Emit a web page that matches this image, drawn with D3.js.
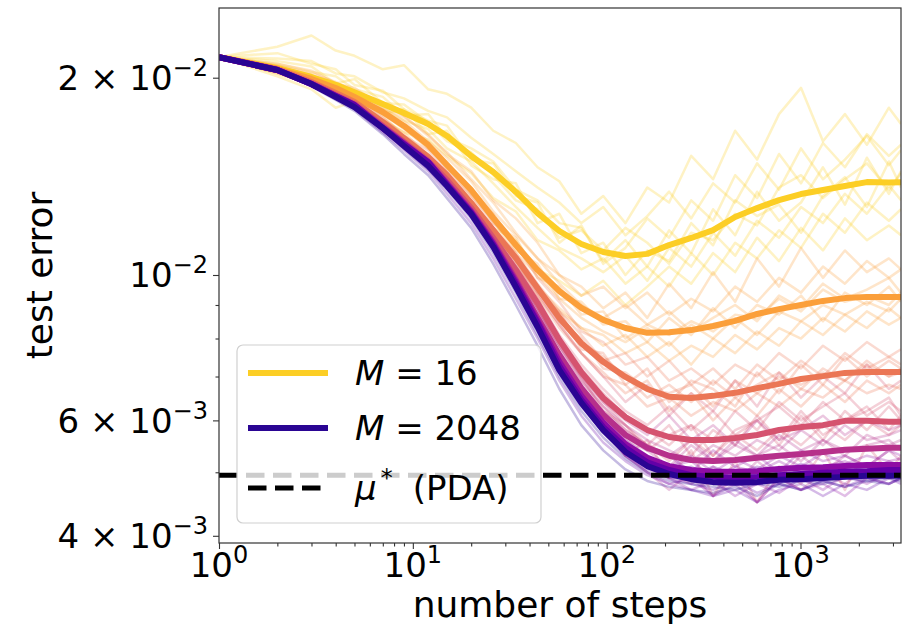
<!DOCTYPE html>
<html>
<head>
<meta charset="utf-8">
<script src="https://cdn.jsdelivr.net/npm/d3@7"></script>
<style>
  html, body { margin: 0; padding: 0; background: #ffffff; }
  svg { display: block; font-family: "DejaVu Sans", sans-serif; }
</style>
</head>
<body>
<script>
// Steps at which the test error was recorded
const steps = [1, 2, 3, 4, 5, 7, 9, 12, 15, 20, 26, 34, 44, 57, 74, 96, 125, 162, 210, 273, 354, 460, 597, 775, 1006, 1306, 1695, 2200, 2857, 3300];

// Number of particles for each averaged curve
const mValues = [16, 32, 64, 128, 256, 512, 1024, 2048];

// Averaged test error per M (units of 1e-3)
const meanM16   = [21.5, 20.7, 20.05, 19.5, 19.0, 18.24, 17.67, 17.0, 16.3, 15.19, 14.36, 13.39, 12.43, 11.67, 11.15, 10.84, 10.69, 10.77, 11.11, 11.39, 11.71, 12.26, 12.65, 13.01, 13.29, 13.48, 13.67, 13.86, 13.84, 13.85];
const meanM32   = [21.5, 20.62, 19.91, 19.29, 18.69, 17.73, 16.88, 15.79, 14.72, 13.48, 12.22, 11.11, 10.18, 9.45, 8.91, 8.54, 8.30, 8.16, 8.18, 8.24, 8.36, 8.51, 8.72, 8.87, 9.00, 9.13, 9.22, 9.26, 9.26, 9.26];
const meanM64   = [21.5, 20.62, 19.70, 18.95, 18.36, 17.12, 16.18, 15.14, 14.21, 12.88, 11.71, 10.62, 9.55, 8.60, 7.87, 7.37, 6.99, 6.70, 6.52, 6.49, 6.54, 6.61, 6.72, 6.82, 6.94, 7.01, 7.09, 7.11, 7.11, 7.11];
const meanM128  = [21.5, 20.55, 19.63, 18.82, 18.24, 16.88, 15.96, 14.93, 13.96, 12.65, 11.39, 10.18, 9.06, 7.96, 7.11, 6.49, 6.07, 5.80, 5.66, 5.60, 5.60, 5.64, 5.70, 5.80, 5.86, 5.90, 5.99, 5.99, 5.97, 5.97];
const meanM256  = [21.5, 20.55, 19.56, 18.76, 18.17, 16.82, 15.90, 14.87, 13.82, 12.52, 11.23, 9.83, 8.60, 7.55, 6.72, 6.12, 5.70, 5.45, 5.30, 5.22, 5.20, 5.22, 5.26, 5.30, 5.33, 5.37, 5.41, 5.43, 5.45, 5.45];
const meanM512  = [21.5, 20.55, 19.56, 18.76, 18.17, 16.76, 15.84, 14.87, 13.77, 12.48, 11.15, 9.76, 8.51, 7.37, 6.54, 5.95, 5.52, 5.26, 5.11, 5.04, 5.01, 5.01, 5.02, 5.06, 5.08, 5.09, 5.11, 5.13, 5.13, 5.13];
const meanM1024 = [21.5, 20.55, 19.56, 18.76, 18.17, 16.76, 15.84, 14.87, 13.72, 12.43, 11.11, 9.69, 8.45, 7.26, 6.45, 5.86, 5.45, 5.18, 5.04, 4.95, 4.92, 4.90, 4.92, 4.95, 4.97, 4.99, 5.01, 5.02, 5.04, 5.04];
const meanM2048 = [21.5, 20.55, 19.56, 18.69, 18.04, 16.76, 15.73, 14.67, 13.67, 12.39, 11.04, 9.59, 8.33, 7.16, 6.38, 5.80, 5.37, 5.11, 4.97, 4.88, 4.83, 4.82, 4.83, 4.87, 4.88, 4.90, 4.92, 4.94, 4.94, 4.94];

// Individual runs per M (units of 1e-3)
const runsM16 = [
  [21.5, 22.3, 23.2, 22.0, 21.6, 20.6, 20.9, 19.2, 18.9, 18.0, 16.6, 15.9, 14.6, 13.9, 12.4, 13.2, 12.0, 13.6, 12.9, 15.2, 14.0, 16.6, 15.0, 17.6, 19.3, 16.0, 17.6, 15.8, 18.0, 17.0],
  [21.5, 20.1, 19.2, 18.0, 18.4, 16.8, 16.0, 15.2, 14.0, 13.0, 11.8, 11.3, 10.2, 9.8, 9.3, 9.8, 9.0, 9.6, 10.3, 9.7, 10.8, 10.1, 11.4, 10.5, 11.8, 10.9, 12.2, 11.3, 11.9, 11.5],
  [21.5, 21.0, 20.4, 20.1, 19.2, 18.7, 17.5, 17.6, 16.2, 15.6, 14.9, 13.5, 13.0, 12.0, 11.8, 10.5, 11.3, 10.3, 11.7, 10.8, 12.6, 11.5, 13.4, 12.1, 12.9, 14.6, 12.8, 15.1, 13.3, 14.4],
  [21.5, 20.5, 19.9, 19.2, 18.7, 17.6, 17.9, 16.4, 16.6, 14.7, 14.0, 13.8, 12.0, 12.4, 10.8, 11.2, 10.0, 10.9, 10.5, 12.0, 11.1, 13.0, 12.3, 12.8, 11.6, 13.2, 14.1, 12.7, 14.9, 13.6],
  [21.5, 21.2, 20.8, 19.6, 19.9, 18.3, 18.2, 17.1, 16.0, 15.4, 14.2, 13.0, 12.6, 11.4, 11.7, 10.9, 11.8, 11.2, 10.4, 11.6, 11.3, 12.4, 11.9, 13.6, 14.2, 13.1, 14.0, 14.8, 13.5, 14.3],
  [21.5, 21.8, 21.0, 20.6, 19.5, 19.1, 17.9, 17.2, 16.9, 15.0, 14.8, 13.2, 12.9, 11.2, 11.9, 10.4, 11.0, 12.2, 11.4, 13.0, 12.1, 14.2, 13.1, 15.3, 13.8, 15.9, 14.6, 16.4, 15.2, 15.8],
  [21.5, 20.3, 19.6, 19.0, 18.1, 17.3, 16.5, 16.1, 15.2, 14.3, 13.1, 12.5, 11.3, 10.9, 10.2, 10.6, 9.7, 10.3, 9.6, 10.8, 10.0, 11.2, 10.6, 11.7, 11.0, 12.4, 11.6, 12.9, 12.1, 12.6],
  [21.5, 21.4, 21.2, 20.3, 20.1, 19.0, 18.6, 17.8, 17.4, 16.2, 15.3, 14.4, 13.6, 12.9, 12.0, 12.7, 11.5, 12.3, 13.4, 12.2, 13.8, 12.9, 14.8, 13.5, 15.6, 14.0, 15.0, 16.3, 14.7, 15.5],
  [21.5, 20.8, 20.2, 19.4, 18.9, 18.0, 17.2, 16.7, 15.6, 14.9, 13.8, 12.7, 11.8, 11.0, 10.6, 10.1, 10.7, 9.8, 11.0, 10.3, 11.6, 10.7, 12.1, 11.4, 12.7, 12.0, 13.3, 12.4, 13.7, 13.0]
];
const runsM32 = [
  [21.5, 21.0, 20.5, 19.6, 19.3, 18.0, 17.4, 16.4, 15.3, 14.4, 13.0, 12.2, 11.2, 10.0, 9.6, 8.9, 9.4, 8.6, 9.7, 8.9, 10.1, 9.1, 10.6, 9.6, 11.0, 9.9, 10.9, 10.1, 10.6, 10.2],
  [21.5, 20.3, 19.5, 19.0, 18.2, 17.5, 16.3, 15.3, 14.0, 12.7, 11.5, 10.3, 9.5, 8.8, 8.3, 8.1, 7.6, 7.9, 7.4, 7.8, 7.5, 8.1, 7.7, 8.3, 8.0, 8.6, 8.2, 8.8, 8.4, 8.6],
  [21.5, 20.7, 20.0, 19.3, 18.6, 17.8, 16.9, 15.6, 14.9, 13.3, 12.4, 10.9, 10.4, 9.2, 9.1, 8.4, 8.5, 7.9, 8.6, 8.1, 8.9, 8.3, 9.0, 8.7, 9.3, 8.5, 9.4, 9.0, 9.6, 9.1],
  [21.5, 20.5, 19.7, 19.4, 18.9, 17.6, 17.0, 15.9, 14.5, 13.6, 12.0, 11.4, 9.9, 9.6, 8.7, 8.8, 8.0, 8.4, 8.1, 8.5, 8.2, 8.7, 8.6, 9.2, 8.8, 9.5, 9.1, 9.3, 9.0, 9.4],
  [21.5, 20.9, 20.3, 19.7, 19.1, 18.3, 17.5, 16.3, 15.4, 14.0, 12.9, 11.6, 10.6, 10.0, 9.3, 9.6, 8.9, 9.4, 8.7, 9.2, 8.8, 9.6, 9.1, 9.9, 9.4, 10.3, 9.7, 10.5, 9.9, 10.2],
  [21.5, 20.4, 19.6, 18.9, 18.4, 17.2, 16.5, 15.2, 14.2, 12.9, 11.7, 10.7, 9.6, 8.9, 8.3, 7.8, 8.1, 7.5, 7.9, 7.3, 8.0, 7.6, 8.2, 7.8, 8.5, 8.1, 8.7, 8.3, 8.9, 8.6],
  [21.5, 20.8, 20.1, 19.5, 18.9, 17.9, 17.2, 16.0, 15.1, 13.9, 12.5, 11.5, 10.6, 9.7, 9.0, 8.6, 9.0, 8.4, 8.8, 8.2, 8.6, 9.0, 8.5, 9.3, 8.9, 9.7, 9.2, 9.5, 9.9, 9.4],
  [21.5, 20.6, 19.8, 19.1, 18.5, 17.6, 16.7, 15.6, 14.6, 13.2, 12.1, 10.8, 10.0, 9.2, 8.6, 8.2, 7.9, 8.3, 7.8, 8.4, 8.0, 8.6, 8.1, 8.8, 8.5, 9.0, 8.7, 9.1, 8.8, 9.2]
];
const runsM64 = [
  [21.5, 20.8, 19.9, 19.2, 18.5, 17.4, 16.3, 15.5, 14.4, 13.2, 12.0, 11.1, 9.9, 9.1, 8.2, 7.9, 7.3, 7.5, 6.9, 7.2, 6.8, 7.3, 7.0, 7.6, 7.2, 7.8, 7.4, 7.9, 7.5, 7.7],
  [21.5, 20.5, 19.5, 18.7, 18.2, 16.9, 16.0, 14.9, 14.0, 12.6, 11.4, 10.2, 9.3, 8.3, 7.6, 7.0, 6.8, 6.3, 6.5, 6.1, 6.4, 6.2, 6.6, 6.3, 6.7, 6.5, 6.9, 6.6, 6.8, 6.7],
  [21.5, 20.6, 19.7, 19.0, 18.4, 17.1, 16.2, 15.1, 14.3, 12.9, 11.8, 10.5, 9.6, 8.5, 8.0, 7.2, 7.1, 6.7, 6.6, 6.8, 6.3, 6.9, 6.6, 7.0, 6.8, 7.1, 6.9, 7.3, 7.0, 7.2],
  [21.5, 20.7, 19.8, 18.9, 18.5, 17.0, 16.3, 15.0, 14.1, 12.8, 11.5, 10.7, 9.4, 8.8, 7.7, 7.6, 6.8, 7.2, 6.4, 6.9, 6.7, 6.3, 7.1, 6.6, 7.3, 6.8, 7.5, 7.0, 7.4, 7.2],
  [21.5, 20.6, 19.8, 19.0, 18.3, 17.2, 16.2, 15.2, 14.2, 12.9, 11.8, 10.8, 9.7, 8.8, 8.1, 7.4, 7.6, 7.0, 7.4, 6.8, 7.2, 6.7, 7.3, 6.9, 7.4, 7.0, 7.6, 7.2, 7.5, 7.3],
  [21.5, 20.5, 19.6, 18.8, 18.2, 16.9, 16.0, 15.0, 14.1, 12.7, 11.5, 10.4, 9.3, 8.4, 7.6, 7.1, 6.6, 6.9, 6.2, 6.6, 6.0, 6.5, 6.1, 6.7, 6.3, 6.8, 6.4, 6.9, 6.6, 6.8],
  [21.5, 20.7, 19.8, 19.0, 18.4, 17.2, 16.2, 15.2, 14.2, 12.9, 11.7, 10.6, 9.6, 8.7, 7.9, 7.5, 7.0, 6.5, 6.8, 6.4, 6.9, 6.5, 6.8, 7.1, 6.7, 7.2, 6.9, 7.4, 7.0, 7.1]
];
const runsM128 = [
  [21.5, 20.7, 19.8, 19.0, 18.3, 17.0, 16.1, 15.1, 14.1, 12.8, 11.6, 10.4, 9.4, 8.4, 7.6, 7.0, 6.4, 6.8, 6.1, 6.6, 6.2, 6.9, 6.3, 7.1, 6.5, 7.0, 6.6, 7.3, 6.7, 6.9],
  [21.5, 20.4, 19.5, 18.7, 18.1, 16.7, 15.8, 14.8, 13.8, 12.5, 11.2, 10.0, 8.9, 7.6, 6.7, 5.9, 5.3, 5.6, 4.9, 5.4, 4.6, 5.2, 4.5, 5.1, 4.8, 5.4, 4.7, 5.5, 5.0, 5.3],
  [21.5, 20.6, 19.6, 18.8, 18.2, 16.9, 15.9, 14.9, 14.0, 12.7, 11.4, 10.2, 9.0, 7.9, 7.0, 6.4, 5.9, 5.5, 5.9, 5.3, 5.8, 5.5, 6.1, 5.6, 6.2, 5.7, 6.0, 6.3, 5.8, 6.1],
  [21.5, 20.5, 19.6, 18.8, 18.2, 16.8, 15.9, 14.9, 13.9, 12.6, 11.3, 10.1, 8.9, 7.8, 7.0, 6.2, 5.9, 5.4, 5.7, 5.9, 5.3, 5.8, 6.0, 5.5, 6.1, 5.6, 6.2, 5.8, 6.3, 6.0],
  [21.5, 20.6, 19.7, 18.9, 18.3, 17.0, 16.0, 15.0, 14.0, 12.7, 11.5, 10.3, 9.2, 8.1, 7.3, 6.7, 6.2, 5.9, 6.3, 5.8, 6.2, 5.7, 6.0, 6.3, 5.9, 6.4, 6.0, 6.2, 6.5, 6.1],
  [21.5, 20.5, 19.6, 18.8, 18.2, 16.8, 15.9, 14.8, 13.9, 12.6, 11.3, 10.0, 8.9, 7.8, 6.9, 6.3, 5.8, 5.5, 5.2, 5.6, 5.3, 5.7, 5.4, 5.8, 5.5, 5.9, 5.6, 6.0, 5.7, 5.9],
  [21.5, 20.6, 19.6, 18.8, 18.2, 16.9, 16.0, 14.9, 14.0, 12.7, 11.4, 10.2, 9.1, 8.0, 7.2, 6.6, 6.1, 5.8, 5.5, 5.9, 5.6, 6.2, 5.8, 6.4, 6.0, 6.3, 6.6, 6.1, 6.4, 6.2]
];
const runsM256 = [
  [21.5, 20.6, 19.6, 18.8, 18.2, 16.9, 16.0, 15.0, 13.9, 12.6, 11.4, 10.0, 8.8, 7.8, 7.0, 6.4, 6.0, 5.7, 6.1, 5.6, 5.9, 5.5, 6.0, 5.6, 5.8, 6.1, 5.7, 6.0, 5.8, 5.9],
  [21.5, 20.5, 19.5, 18.7, 18.1, 16.7, 15.8, 14.7, 13.7, 12.4, 11.1, 9.7, 8.4, 7.3, 6.5, 5.8, 5.3, 5.0, 4.7, 5.0, 4.6, 4.9, 4.5, 4.9, 4.7, 5.0, 4.8, 5.1, 4.9, 5.0],
  [21.5, 20.6, 19.6, 18.8, 18.2, 16.8, 15.9, 14.9, 13.8, 12.5, 11.2, 9.9, 8.6, 7.6, 6.7, 6.1, 5.6, 5.4, 5.1, 5.5, 5.2, 5.6, 5.3, 5.5, 5.2, 5.6, 5.4, 5.5, 5.6, 5.4],
  [21.5, 20.6, 19.6, 18.8, 18.2, 16.8, 15.9, 14.9, 13.8, 12.5, 11.2, 9.9, 8.7, 7.6, 6.8, 6.2, 5.8, 5.5, 5.3, 5.6, 5.2, 5.5, 5.3, 5.7, 5.4, 5.6, 5.3, 5.7, 5.5, 5.6],
  [21.5, 20.5, 19.5, 18.7, 18.1, 16.7, 15.8, 14.8, 13.7, 12.4, 11.1, 9.7, 8.5, 7.4, 6.6, 6.0, 5.5, 5.2, 5.0, 4.8, 5.1, 4.8, 5.2, 4.9, 5.3, 5.0, 5.3, 5.1, 5.4, 5.2],
  [21.5, 20.6, 19.6, 18.8, 18.2, 16.8, 15.9, 14.9, 13.8, 12.5, 11.3, 10.0, 8.8, 7.7, 6.9, 6.3, 5.9, 5.6, 5.4, 5.2, 5.5, 5.3, 5.6, 5.4, 5.8, 5.5, 5.9, 5.6, 5.7, 5.8]
];
const runsM512 = [
  [21.5, 20.6, 19.6, 18.8, 18.2, 16.8, 15.9, 14.9, 13.8, 12.5, 11.2, 9.8, 8.6, 7.5, 6.7, 6.1, 5.7, 5.4, 5.3, 5.0, 5.4, 5.1, 5.3, 5.0, 5.4, 5.2, 5.3, 5.1, 5.4, 5.3],
  [21.5, 20.5, 19.5, 18.7, 18.1, 16.7, 15.8, 14.8, 13.7, 12.4, 11.1, 9.7, 8.4, 7.3, 6.4, 5.8, 5.3, 5.0, 4.8, 4.9, 4.6, 4.8, 4.5, 4.9, 4.7, 4.8, 4.6, 4.9, 4.8, 4.9],
  [21.5, 20.6, 19.6, 18.8, 18.2, 16.8, 15.8, 14.8, 13.7, 12.4, 11.1, 9.7, 8.5, 7.4, 6.5, 5.9, 5.5, 5.2, 5.1, 5.2, 4.9, 5.1, 5.0, 5.2, 5.0, 5.1, 5.2, 5.0, 5.2, 5.1],
  [21.5, 20.5, 19.5, 18.7, 18.1, 16.7, 15.7, 14.7, 13.6, 12.3, 11.0, 9.6, 8.3, 7.2, 6.4, 5.8, 5.35, 5.1, 4.9, 4.7, 4.85, 4.6, 4.8, 4.65, 4.9, 4.7, 4.95, 4.8, 5.0, 4.9],
  [21.5, 20.6, 19.6, 18.8, 18.2, 16.8, 15.9, 14.9, 13.8, 12.5, 11.2, 9.8, 8.6, 7.4, 6.6, 6.0, 5.6, 5.3, 5.1, 5.3, 5.0, 5.25, 5.05, 5.3, 5.1, 5.35, 5.15, 5.3, 5.2, 5.25]
];
const runsM1024 = [
  [21.5, 20.6, 19.6, 18.8, 18.2, 16.8, 15.9, 14.9, 13.7, 12.4, 11.1, 9.7, 8.5, 7.3, 6.5, 5.9, 5.5, 5.2, 5.0, 5.1, 4.9, 4.8, 5.0, 4.8, 5.1, 4.9, 5.0, 5.1, 4.9, 5.0],
  [21.5, 20.5, 19.4, 18.6, 17.9, 16.5, 15.5, 14.4, 13.3, 12.0, 10.6, 9.2, 8.0, 6.9, 6.1, 5.55, 5.2, 4.95, 4.8, 4.7, 4.6, 4.7, 4.5, 4.7, 4.8, 4.6, 4.8, 4.7, 4.9, 4.8],
  [21.5, 20.6, 19.5, 18.7, 18.1, 16.8, 15.8, 14.8, 13.7, 12.5, 11.1, 9.7, 8.4, 7.2, 6.4, 5.8, 5.4, 5.1, 4.9, 4.9, 5.0, 4.9, 4.9, 5.0, 4.9, 5.0, 4.95, 5.05, 5.0, 5.0],
  [21.5, 20.5, 19.5, 18.7, 18.1, 16.7, 15.7, 14.7, 13.6, 12.3, 11.0, 9.6, 8.3, 7.1, 6.3, 5.75, 5.3, 5.05, 4.9, 4.8, 4.7, 4.85, 4.65, 4.8, 4.7, 4.85, 4.75, 4.9, 4.8, 4.9],
  [21.5, 20.6, 19.6, 18.8, 18.2, 16.8, 15.9, 14.8, 13.7, 12.5, 11.2, 9.8, 8.5, 7.3, 6.5, 5.9, 5.5, 5.2, 5.05, 4.95, 5.1, 4.95, 5.1, 5.0, 5.15, 5.0, 5.1, 5.15, 5.05, 5.1]
];
const runsM2048 = [
  [21.5, 20.6, 19.6, 18.7, 18.1, 16.8, 15.8, 14.7, 13.7, 12.4, 11.1, 9.6, 8.4, 7.2, 6.4, 5.8, 5.4, 5.15, 5.0, 4.95, 4.85, 4.9, 4.85, 4.95, 4.9, 4.95, 4.9, 5.0, 4.95, 4.95],
  [21.5, 20.5, 19.4, 18.5, 17.8, 16.4, 15.3, 14.2, 13.1, 11.8, 10.4, 9.0, 7.8, 6.7, 5.9, 5.4, 5.05, 4.85, 4.75, 4.7, 4.65, 4.75, 4.6, 4.8, 4.7, 4.85, 4.75, 4.85, 4.8, 4.9],
  [21.5, 20.55, 19.55, 18.7, 18.0, 16.75, 15.7, 14.65, 13.65, 12.4, 11.0, 9.55, 8.3, 7.15, 6.35, 5.8, 5.35, 5.1, 4.95, 4.85, 4.8, 4.8, 4.85, 4.8, 4.9, 4.85, 4.95, 4.9, 4.95, 4.95],
  [21.5, 20.5, 19.5, 18.6, 18.0, 16.6, 15.6, 14.5, 13.5, 12.2, 10.8, 9.4, 8.1, 7.0, 6.2, 5.65, 5.25, 5.0, 4.85, 4.8, 4.75, 4.7, 4.8, 4.75, 4.85, 4.8, 4.9, 4.85, 4.9, 4.85],
  [21.5, 20.6, 19.6, 18.7, 18.1, 16.8, 15.8, 14.7, 13.7, 12.4, 11.1, 9.65, 8.4, 7.2, 6.45, 5.85, 5.4, 5.15, 5.0, 4.9, 4.95, 4.85, 4.95, 4.9, 5.0, 4.95, 5.0, 4.95, 5.0, 5.0]
];

// Reference level of the PDA solution (units of 1e-3)
const muStar = 4.95;

// Axis ticks
const xTickValues = [1, 10, 100, 1000];
const xTickExponents = ["0", "1", "2", "3"];
const xMinorTicks = [2, 3, 4, 5, 6, 7, 8, 9, 20, 30, 40, 50, 60, 70, 80, 90, 200, 300, 400, 500, 600, 700, 800, 900, 2000, 3000];
const yTickValues = [20, 10, 6, 4];
const yTickMantissas = ["2 × 10", "10", "6 × 10", "4 × 10"];
const yTickExponents = ["−2", "−2", "−3", "−3"];
const yMinorTicks = [5, 7, 8, 9];

// ---------------------------------------------------------------
const W = 905, H = 629;
const L = 219, R = 901, T = 8, B = 543;
const FONT = "DejaVu Sans";

const means = [meanM16, meanM32, meanM64, meanM128, meanM256, meanM512, meanM1024, meanM2048];
const runs = [runsM16, runsM32, runsM64, runsM128, runsM256, runsM512, runsM1024, runsM2048];
// position of each M along the plasma colour map
const plasmaPos = [0.9, 0.78, 0.66, 0.54, 0.42, 0.3, 0.18, 0.05];
const colorOf = i => d3.interpolatePlasma(plasmaPos[i]);

const svg = d3.select("body").append("svg")
  .attr("width", W).attr("height", H)
  .attr("viewBox", `0 0 ${W} ${H}`);

const x = d3.scaleLog().domain([1, 3300]).range([L, R]);
const y = d3.scaleLog().domain([3.9, 25.55]).range([B, T]);

svg.append("defs").append("clipPath").attr("id", "plot-clip")
  .append("rect").attr("x", L).attr("y", T).attr("width", R - L).attr("height", B - T);

const line = d3.line()
  .x((d, i) => x(steps[i]))
  .y(d => y(d));

const plot = svg.append("g").attr("clip-path", "url(#plot-clip)");

// individual runs, faint
runs.forEach((set, i) => {
  plot.append("g")
    .selectAll("path")
    .data(set)
    .join("path")
    .attr("d", line)
    .attr("fill", "none")
    .attr("stroke", colorOf(i))
    .attr("stroke-opacity", 0.27)
    .attr("stroke-width", 2.5)
    .attr("stroke-linejoin", "round");
});

// averaged curves, small M first so large M sits on top
plot.append("g")
  .selectAll("path")
  .data(means)
  .join("path")
  .attr("d", line)
  .attr("fill", "none")
  .attr("stroke", (d, i) => colorOf(i))
  .attr("stroke-width", 6)
  .attr("stroke-linejoin", "round");

// PDA reference level
plot.append("line")
  .attr("x1", x(1)).attr("x2", x(3300))
  .attr("y1", y(muStar)).attr("y2", y(muStar))
  .attr("stroke", "#000")
  .attr("stroke-width", 5)
  .attr("stroke-dasharray", "18.5 8.5");

// ---- axes ----
const axisColor = "#333333";

svg.append("g")
  .attr("transform", `translate(0,${B})`)
  .attr("color", axisColor)
  .call(d3.axisBottom(x).tickValues(xTickValues).tickSize(6).tickFormat(""))
  .call(g => g.select(".domain").remove());
svg.append("g")
  .attr("transform", `translate(0,${B})`)
  .attr("color", axisColor)
  .call(d3.axisBottom(x).tickValues(xMinorTicks).tickSize(3.5).tickFormat(""))
  .call(g => g.select(".domain").remove());
svg.append("g")
  .attr("transform", `translate(${L},0)`)
  .attr("color", axisColor)
  .call(d3.axisLeft(y).tickValues(yTickValues).tickSize(6).tickFormat(""))
  .call(g => g.select(".domain").remove());
svg.append("g")
  .attr("transform", `translate(${L},0)`)
  .attr("color", axisColor)
  .call(d3.axisLeft(y).tickValues(yMinorTicks).tickSize(3.5).tickFormat(""))
  .call(g => g.select(".domain").remove());

svg.selectAll(".tick line").attr("stroke-width", 1.1);

// frame
svg.append("rect")
  .attr("x", L).attr("y", T).attr("width", R - L).attr("height", B - T)
  .attr("fill", "none").attr("stroke", axisColor).attr("stroke-width", 1.2);

// x tick labels 10^k
const xLabels = svg.append("g").selectAll("text")
  .data(xTickValues)
  .join("text")
  .attr("x", d => x(d))
  .attr("y", 577)
  .attr("text-anchor", "middle")
  .attr("font-family", FONT)
  .attr("font-size", 34)
  .attr("fill", "#000");
xLabels.append("tspan").text("10");
xLabels.append("tspan")
  .attr("dy", -14)
  .attr("font-size", 24)
  .text(d => xTickExponents[xTickValues.indexOf(d)]);

// y tick labels a × 10^k
const yLabels = svg.append("g").selectAll("text")
  .data(yTickValues)
  .join("text")
  .attr("x", 208)
  .attr("y", d => y(d) + 12.5)
  .attr("text-anchor", "end")
  .attr("font-family", FONT)
  .attr("font-size", 34)
  .attr("fill", "#000");
yLabels.append("tspan").text(d => yTickMantissas[yTickValues.indexOf(d)]);
yLabels.append("tspan")
  .attr("dy", -14)
  .attr("font-size", 24)
  .text(d => yTickExponents[yTickValues.indexOf(d)]);

// axis titles
svg.append("text")
  .attr("x", (L + R) / 2).attr("y", 617)
  .attr("text-anchor", "middle")
  .attr("font-family", FONT).attr("font-size", 36).attr("fill", "#000")
  .text("number of steps");
svg.append("text")
  .attr("transform", `translate(52,${(T + B) / 2}) rotate(-90)`)
  .attr("text-anchor", "middle")
  .attr("font-family", FONT).attr("font-size", 36).attr("fill", "#000")
  .text("test error");

// ---- legend ----
const legend = svg.append("g");
legend.append("rect")
  .attr("x", 237).attr("y", 345).attr("width", 304).attr("height", 178)
  .attr("rx", 6).attr("ry", 6)
  .attr("fill", "#ffffff").attr("fill-opacity", 0.8)
  .attr("stroke", "#d0d0d0").attr("stroke-width", 1.2);

const legendRows = [
  { color: colorOf(0), dash: null, y: 373, m: mValues[0] },
  { color: colorOf(mValues.length - 1), dash: null, y: 428, m: mValues[mValues.length - 1] },
  { color: "#000", dash: "18.5 8.5", y: 488, m: null }
];
legendRows.forEach(r => {
  legend.append("line")
    .attr("x1", 248).attr("x2", 328)
    .attr("y1", r.y).attr("y2", r.y)
    .attr("stroke", r.color)
    .attr("stroke-width", r.dash ? 5 : 6)
    .attr("stroke-dasharray", r.dash);
  const t = legend.append("text")
    .attr("x", 355).attr("y", r.y + 12)
    .attr("font-family", FONT).attr("font-size", 34).attr("fill", "#000");
  if (r.m !== null) {
    t.append("tspan").attr("font-style", "italic").text("M");
    t.append("tspan").text(" = " + r.m);
  } else {
    t.append("tspan").attr("font-style", "italic").text("μ");
    t.append("tspan").attr("dx", 4).attr("dy", -14).attr("font-size", 24).text("*");
    t.append("tspan").attr("dx", 20).attr("dy", 14).text("(PDA)");
  }
});
</script>
</body>
</html>
